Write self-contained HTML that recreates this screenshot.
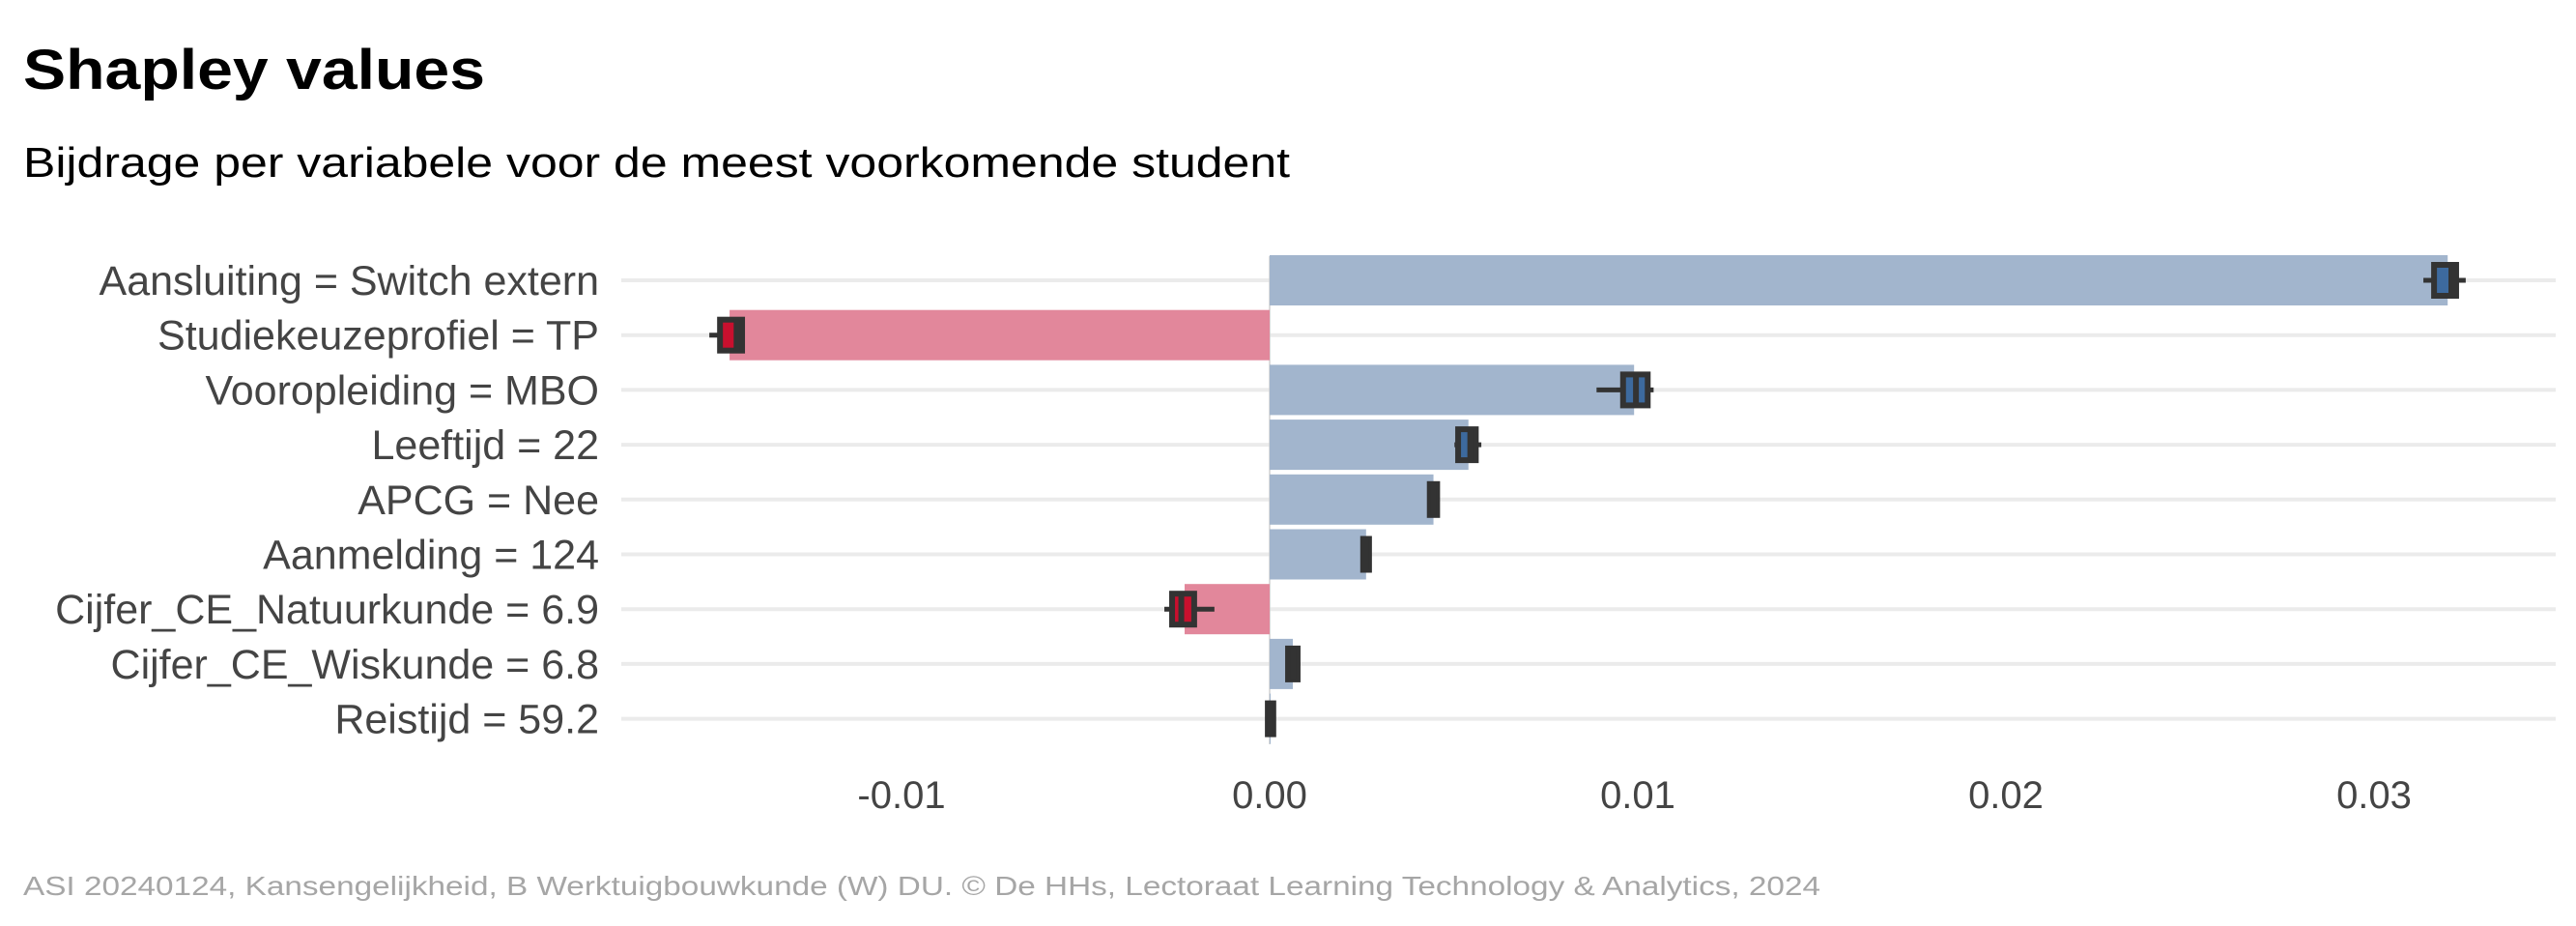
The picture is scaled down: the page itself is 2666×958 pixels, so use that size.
<!DOCTYPE html>
<html><head><meta charset="utf-8"><style>
html,body{margin:0;padding:0;background:#fff;}
svg{display:block;font-family:"Liberation Sans",sans-serif;}
</style></head><body>
<svg id="chart" width="2666" height="958" viewBox="0 0 2666 958">
<text x="24" y="92" font-size="58" font-weight="bold" fill="#000" textLength="478" lengthAdjust="spacingAndGlyphs">Shapley values</text>
<text x="24" y="183" font-size="44" fill="#000" textLength="1311" lengthAdjust="spacingAndGlyphs">Bijdrage per variabele voor de meest voorkomende student</text>
<text x="24" y="926" font-size="28" fill="#a6a6a6" textLength="1860" lengthAdjust="spacingAndGlyphs">ASI 20240124, Kansengelijkheid, B Werktuigbouwkunde (W) DU. © De HHs, Lectoraat Learning Technology &amp; Analytics, 2024</text>
<g id="grid"></g><g id="bars"></g><g id="boxes"></g><g id="ylabels"></g><g id="xticks"></g>
</svg>
<script>
const categories = ["Aansluiting = Switch extern","Studiekeuzeprofiel = TP","Vooropleiding = MBO","Leeftijd = 22","APCG = Nee","Aanmelding = 124","Cijfer_CE_Natuurkunde = 6.9","Cijfer_CE_Wiskunde = 6.8","Reistijd = 59.2"];
const values = [0.0320, -0.01467, 0.00990, 0.00540, 0.00445, 0.00262, -0.00231, 0.00063, 0.00002];
const boxLow = [0.03163, -0.01493, 0.00960, 0.00512, 0.00435, 0.00254, -0.00265, 0.00050, -0.00005];
const boxHigh = [0.03223, -0.01433, 0.01027, 0.00560, 0.00455, 0.00270, -0.00205, 0.00076, 0.00010];
const whiskLow = [0.03134, -0.01522, 0.00888, 0.00502, 0.00435, 0.00254, -0.00286, 0.00050, -0.00005];
const whiskHigh = [0.03249, -0.01428, 0.01043, 0.00575, 0.00455, 0.00270, -0.00150, 0.00076, 0.00010];
const medians = [0.03210, -0.01448, 0.00995, 0.00545, 0.00445, 0.00262, -0.00240, 0.00063, 0.00002];
const xTicks = [-0.01, 0, 0.01, 0.02, 0.03];
const xTickLabels = ["-0.01","0.00","0.01","0.02","0.03"];

const NS = "http://www.w3.org/2000/svg";
const x = v => 1314 + v * 38100;
const y = i => 290 + i * 56.7;
function mk(parent, tag, attrs){const e=document.createElementNS(NS,tag);for(const k in attrs)e.setAttribute(k,attrs[k]);document.getElementById(parent).appendChild(e);return e;}

categories.forEach((c,i)=>{
  const g = mk("grid","line",{x1:643,x2:2645,y1:y(i),y2:y(i),stroke:"#ebebeb","stroke-width":4});
  
  
  const t = mk("ylabels","text",{x:620,y:y(i)+15,"text-anchor":"end","font-size":43,fill:"#444"});
  t.textContent = c;
  
  
});
const zl = mk("grid","line",{x1:x(0),x2:x(0),y1:265,y2:770,stroke:"#d0d0d0","stroke-width":1.5});



values.forEach((v,i)=>{
  const pos = v>=0;
  const b = mk("bars","rect",{x:Math.min(x(0),x(v)),y:y(i)-26,width:Math.max(1,Math.abs(x(v)-x(0))),height:52,fill:pos?"#a2b5cd":"#e2879b"});
  
  
  const w = mk("boxes","line",{x1:x(whiskLow[i]),x2:x(whiskHigh[i]),y1:y(i),y2:y(i),stroke:"#333","stroke-width":5});
  
  
  const bw = Math.max(2, x(boxHigh[i])-x(boxLow[i]));
  const bx = mk("boxes","rect",{x:x(boxLow[i]),y:y(i)-16,width:bw,height:32,fill:pos?"#3d6a9e":"#c8102e",stroke:"#333","stroke-width":6});
  
  
  const m = mk("boxes","line",{x1:x(medians[i]),x2:x(medians[i]),y1:y(i)-16,y2:y(i)+16,stroke:"#333","stroke-width":6});
  
  
});

xTicks.forEach((t,i)=>{
  const e = mk("xticks","text",{x:x(t),y:836,"text-anchor":"middle","font-size":40,fill:"#444"});
  e.textContent = xTickLabels[i];
  
  
});
</script>
</body></html>
